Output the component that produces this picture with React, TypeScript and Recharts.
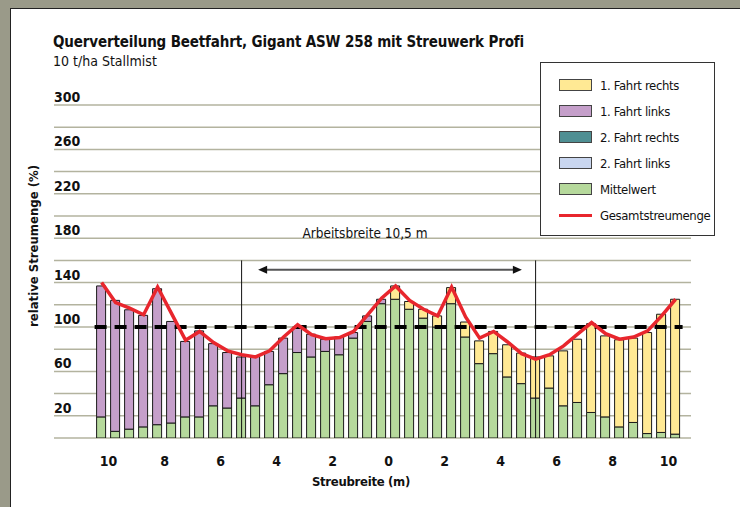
import React from "react";
import {
  Bar,
  CartesianGrid,
  ComposedChart,
  Line,
  ReferenceLine,
  XAxis,
  YAxis,
} from "recharts";

// Streubreite (m), Mitte jedes Balkens (0,5 m Raster)
const positions = [
  -10.25, -9.75, -9.25, -8.75, -8.25, -7.75, -7.25, -6.75, -6.25, -5.75, -5.25,
  -4.75, -4.25, -3.75, -3.25, -2.75, -2.25, -1.75, -1.25, -0.75, -0.25, 0.25,
  0.75, 1.25, 1.75, 2.25, 2.75, 3.25, 3.75, 4.25, 4.75, 5.25, 5.75, 6.25, 6.75,
  7.25, 7.75, 8.25, 8.75, 9.25, 9.75, 10.25,
];

const mittelwert = [
  19, 6, 8, 10, 12, 13.5, 19, 19, 29, 27, 36, 29, 48, 58, 77, 73, 78, 75, 90,
  105, 121, 125, 116, 108, 100, 121, 91, 67, 76, 55, 49, 36, 45, 29, 32, 23, 19,
  10, 14, 4, 5, 3.5,
];

const fahrt1Links = [
  118, 118, 107.5, 100.5, 122.5, 91.5, 68, 77.5, 56, 50, 37, 45, 30, 32, 23,
  20.5, 11, 16, 5, 5, 4, 0, 0, 0, 0, 0, 0, 0, 0, 0, 0, 0, 0, 0, 0, 0, 0, 0, 0, 0,
  0, 0,
];

const fahrt1Rechts = [
  0, 0, 0, 0, 0, 0, 0, 0, 0, 0, 0, 0, 0, 0, 0, 0, 0, 0, 0, 0, 0, 12, 7, 8, 10,
  14.5, 13.5, 20.5, 20, 29, 27.5, 37, 29, 49.5, 57, 80, 73, 78.5, 76, 91, 106.5,
  121.5,
];

const gesamt = [
  140, 122, 117, 111, 136, 112, 88, 96, 86, 78.5, 75, 73, 78.5, 91, 102, 93,
  89.5, 90.5, 96, 111, 126, 137, 124, 116, 110, 136, 109, 90, 96, 86.5, 76, 71,
  75, 83, 93.5, 104, 94, 89, 91, 96.5, 110, 125,
];

const xTicks = [-10, -8, -6, -4, -2, 0, 2, 4, 6, 8, 10];
const yTicks = [0, 20, 40, 60, 80, 100, 120, 140, 160, 180, 200, 220, 240, 260, 280, 300];
const yLabels = [20, 60, 100, 140, 180, 220, 260, 300];

const sollwert = 100;
const arbeitsbreite = 10.5;

const legendItems = [
  { name: "1. Fahrt rechts", color: "#ffe994", type: "box" },
  { name: "1. Fahrt links", color: "#c59fca", type: "box" },
  { name: "2. Fahrt rechts", color: "#4f8f93", type: "box" },
  { name: "2. Fahrt links", color: "#c9d6ef", type: "box" },
  { name: "Mittelwert", color: "#b6d99c", type: "box" },
  { name: "Gesamtstreumenge", color: "#e8262d", type: "line" },
];

const data = positions.map((x, i) => ({
  x,
  mittelwert: mittelwert[i],
  fahrt1Links: fahrt1Links[i],
  fahrt1Rechts: fahrt1Rechts[i],
  gesamt: gesamt[i],
}));

const FONT = "'DejaVu Sans Condensed', 'Liberation Sans', sans-serif";

const YTick = (props: any) => {
  const { y, payload } = props;
  if (!yLabels.includes(payload.value)) return <g />;
  return (
    <text x={54} y={y - 3} fontSize={14} fontWeight="bold" fontFamily={FONT} fill="#111" textAnchor="start">
      {payload.value}
    </text>
  );
};

const XTick = (props: any) => {
  const { x, y, payload } = props;
  return (
    <text x={x} y={y + 20} fontSize={14} fontWeight="bold" fontFamily={FONT} fill="#111" textAnchor="middle">
      {Math.abs(payload.value)}
    </text>
  );
};

const Arrow = (props: any) => {
  const { x1, y1, x2, y2 } = props;
  return (
    <g>
      <line x1={x1 + 4} y1={y1} x2={x2 - 4} y2={y2} stroke="#555" strokeWidth={2} />
      <polygon points={`${x1},${y1} ${x1 + 9},${y1 - 4} ${x1 + 9},${y1 + 4}`} fill="#111" />
      <polygon points={`${x2},${y2} ${x2 - 9},${y2 - 4} ${x2 - 9},${y2 + 4}`} fill="#111" />
    </g>
  );
};

export default function App() {
  return (
    <div
      style={{
        position: "absolute",
        left: 0,
        top: 0,
        width: 740,
        height: 507,
        background: "#9a9a89",
        overflow: "hidden",
        fontFamily: FONT,
      }}
    >
      <div
        style={{
          position: "absolute",
          left: 10,
          top: 8,
          right: 0,
          bottom: 0,
          background: "#fff",
          borderLeft: "1.5px solid #222",
          borderTop: "1.5px solid #222",
        }}
      />
      <div style={{ position: "absolute", left: 0, top: 0 }}>
        <ComposedChart
          width={740}
          height={507}
          data={data}
          margin={{ top: 105, right: 49, bottom: 39, left: 0 }}
        >
          <CartesianGrid vertical={false} stroke="#b3b39f" strokeWidth={1.5} />
          <XAxis
            dataKey="x"
            type="number"
            domain={[-11.95, 10.8]}
            allowDataOverflow
            ticks={xTicks}
            interval={0}
            axisLine={false}
            tickLine={false}
            tick={<XTick />}
            height={30}
          />
          <YAxis
            type="number"
            domain={[0, 300]}
            allowDataOverflow
            ticks={yTicks}
            interval={0}
            axisLine={false}
            tickLine={false}
            width={54}
            tick={<YTick />}
          />
          <Bar dataKey="mittelwert" stackId="s" fill="#b6d99c" stroke="#1a1a1a" strokeWidth={1} barSize={9} isAnimationActive={false} />
          <Bar dataKey="fahrt1Links" stackId="s" fill="#c59fca" stroke="#1a1a1a" strokeWidth={1} barSize={9} isAnimationActive={false} />
          <Bar dataKey="fahrt1Rechts" stackId="s" fill="#ffe994" stroke="#1a1a1a" strokeWidth={1} barSize={9} isAnimationActive={false} />
          <ReferenceLine
            segment={[
              { x: -arbeitsbreite / 2, y: 0 },
              { x: -arbeitsbreite / 2, y: 160 },
            ]}
            stroke="#111"
            strokeWidth={1}
          />
          <ReferenceLine
            segment={[
              { x: arbeitsbreite / 2, y: 0 },
              { x: arbeitsbreite / 2, y: 160 },
            ]}
            stroke="#111"
            strokeWidth={1}
          />
          <ReferenceLine
            segment={[
              { x: -4.66, y: 151.5 },
              { x: 4.76, y: 151.5 },
            ]}
            shape={Arrow}
          />
          <ReferenceLine
            segment={[
              { x: -10.5, y: sollwert },
              { x: 10.5, y: sollwert },
            ]}
            stroke="#000"
            strokeWidth={4}
            strokeDasharray="12 8"
          />
          <Line
            dataKey="gesamt"
            type="linear"
            stroke="#e8262d"
            strokeWidth={3.5}
            dot={false}
            isAnimationActive={false}
          />
        </ComposedChart>
      </div>

      <div style={{ position: "absolute", left: 53, top: 33, fontSize: 15, fontWeight: "bold", color: "#111", whiteSpace: "nowrap", letterSpacing: -0.15 }}>
        Querverteilung Beetfahrt, Gigant ASW 258 mit Streuwerk Profi
      </div>
      <div style={{ position: "absolute", left: 53, top: 53, fontSize: 14, color: "#111", whiteSpace: "nowrap" }}>
        10 t/ha Stallmist
      </div>
      <div style={{ position: "absolute", left: 365, top: 225, transform: "translateX(-50%)", fontSize: 13.5, color: "#111", whiteSpace: "nowrap" }}>
        Arbeitsbreite 10,5 m
      </div>
      <div style={{ position: "absolute", left: 361, top: 474, transform: "translateX(-50%)", fontSize: 13, fontWeight: "bold", color: "#111", whiteSpace: "nowrap", letterSpacing: -0.3 }}>
        Streubreite (m)
      </div>
      <div
        style={{
          position: "absolute",
          left: 33,
          top: 246,
          transform: "translate(-50%, -50%) rotate(-90deg)",
          fontSize: 13,
          fontWeight: "bold",
          color: "#111",
          whiteSpace: "nowrap",
        }}
      >
        relative Streumenge (%)
      </div>

      <div
        style={{
          position: "absolute",
          left: 540,
          top: 62,
          width: 173,
          height: 163,
          background: "#fff",
          border: "1.5px solid #333",
          paddingTop: 9,
          boxSizing: "content-box",
        }}
      >
        {legendItems.map((it) => (
          <div key={it.name} style={{ display: "flex", alignItems: "center", height: 26 }}>
            {it.type === "box" ? (
              <div style={{ flexShrink: 0, marginLeft: 18, width: 31, height: 10, background: it.color, border: "1px solid #444" }} />
            ) : (
              <div style={{ flexShrink: 0, marginLeft: 18, width: 33, height: 3, background: it.color }} />
            )}
            <span style={{ marginLeft: 8, fontSize: 13, letterSpacing: -0.35, color: "#111", whiteSpace: "nowrap" }}>{it.name}</span>
          </div>
        ))}
      </div>
    </div>
  );
}
